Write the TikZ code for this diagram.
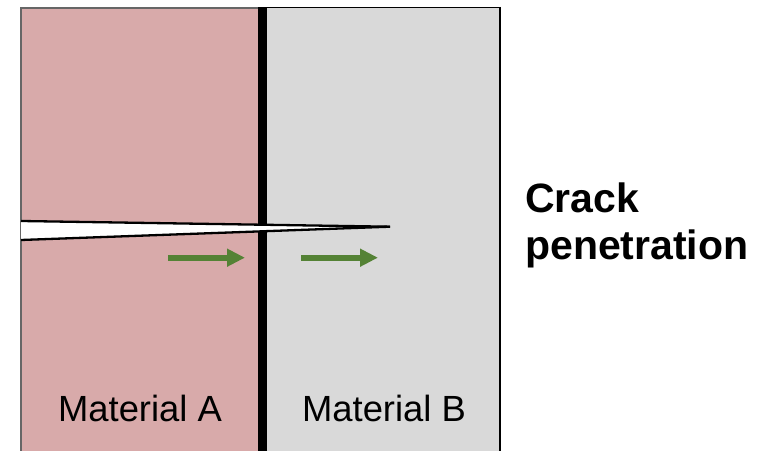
\documentclass[tikz,border=0pt]{standalone}
\usepackage{fontspec}
\setmainfont{Liberation Sans}
\usetikzlibrary{arrows.meta}
\definecolor{matA}{RGB}{216,170,170}
\definecolor{matB}{RGB}{217,217,217}
\definecolor{arrowgreen}{RGB}{84,130,53}
\begin{document}
\begin{tikzpicture}[x=1bp,y=-1bp,
  crackline/.style={draw=black,line width=2.3bp},
  pusharrow/.style={arrowgreen,line width=5.7bp,-{Triangle[length=18bp,width=17bp]}},
  matlabel/.style={font=\fontsize{36.4bp}{40bp}\selectfont,anchor=base,inner sep=0pt},
  titlelabel/.style={font=\fontsize{41bp}{47bp}\selectfont\bfseries,anchor=base west,align=left,inner sep=0pt}]
\useasboundingbox (0,0) rectangle (773,451);
\clip (0,0) rectangle (773,451);
% Material A
\fill[matA] (21,8) rectangle (258,470);
\draw[draw=black!60,line width=1.2bp] (21,470) -- (21,8) -- (258,8);
% Material B
\fill[matB] (267,8) rectangle (500,470);
\draw[black,line width=1.5bp] (267,7.5) -- (500,7.5);
\draw[black,line width=2.5bp] (500,7) -- (500,470);
% interface
\fill[black] (258,7) rectangle (267,470);
% crack
\coordinate (tl) at (21,221);
\coordinate (bl) at (21,240);
\coordinate (tip) at (390,226.7);
\fill[white] (tl) -- (tip) -- (bl) -- cycle;
\draw[crackline] (tl) -- (tip);
\draw[crackline] (bl) -- (tip);
% arrows
\coordinate (a1s) at (168,257.7);
\coordinate (a1e) at (245,257.7);
\coordinate (a2s) at (301,257.7);
\coordinate (a2e) at (378,257.7);
\draw[pusharrow] (a1s) -- (a1e);
\draw[pusharrow] (a2s) -- (a2e);
% labels
\node[matlabel] (labA) at (140,421.7) {Material A};
\node[matlabel] (labB) at (384,421.7) {Material B};
\node[titlelabel] (title) at (525,260) {Crack\\penetration};
\end{tikzpicture}
\end{document}
